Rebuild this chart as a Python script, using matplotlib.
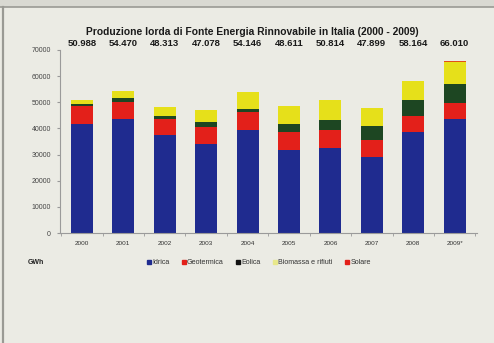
import matplotlib
matplotlib.use("Agg")
import matplotlib.pyplot as plt
from matplotlib.lines import Line2D
from matplotlib.patches import Rectangle

years = ["2000", "2001", "2002", "2003", "2004", "2005", "2006", "2007", "2008", "2009*"]
total_labels = ["50.988", "54.470", "48.313", "47.078", "54.146", "48.611", "50.814", "47.899", "58.164", "66.010"]
idrica = [41700, 43600, 37500, 34100, 39500, 31900, 32700, 28900, 38800, 43600]
geotermica = [7000, 6600, 6000, 6600, 6600, 6900, 6800, 6800, 6100, 6100]
eolica = [500, 1600, 1400, 1600, 1500, 2900, 3700, 5100, 5900, 7200]
biomassa = [1800, 2700, 3400, 4800, 6500, 6900, 7600, 7100, 7200, 8400]
solare = [6, 5, 4, 5, 4, 4, 2, 39, 193, 676]
series_names = ["Idrica", "Geotermica", "Eolica", "Biomassa e rifiuti", "Solare"]
y_ticks = [0, 10000, 20000, 30000, 40000, 50000, 60000, 70000]

colors = ["#1f2b8f", "#e3201a", "#1d4622", "#e6e01a", "#e0501a"]
legend_colors = ["#1f2b8f", "#e3201a", "#111111", "#e8e88a", "#e3201a"]
bg = "#ebebe4"

W, H = 494, 343
fig = plt.figure(figsize=(W / 100, H / 100), dpi=100, facecolor=bg)
plt.rcParams["font.family"] = ["Liberation Sans", "DejaVu Sans"]

# frame lines of the photographed page
fig.patches.append(Rectangle((0, 1 - 7 / H), 1, 7 / H, transform=fig.transFigure,
                             facecolor="#d9d9d2", edgecolor="none", zorder=0))
fig.lines.append(Line2D([0, 1], [1 - 7 / H, 1 - 7 / H], transform=fig.transFigure,
                        color="#9a9a94", lw=1.2))
fig.lines.append(Line2D([3 / W, 3 / W], [0, 1 - 7 / H], transform=fig.transFigure,
                        color="#9a9a94", lw=1.6))

ax = fig.add_axes([60 / W, 1 - 233 / H, (477 - 60) / W, (233 - 50) / H])
ax.set_facecolor(bg)

x = list(range(len(years)))
width = 0.53
stack = [idrica, geotermica, eolica, biomassa, solare]
bottom = [0] * len(years)
for vals, c, name in zip(stack, colors, series_names):
    ax.bar(x, vals, width=width, bottom=bottom, color=c, label=name, zorder=2)
    bottom = [b + v for b, v in zip(bottom, vals)]

ax.set_xlim(-0.53, 9.54)
ax.set_ylim(0, 70000)
ax.set_yticks(y_ticks)
ax.set_yticklabels([str(v) for v in y_ticks], fontsize=5.0, color="#444444")
ax.set_xticks(x)
ax.set_xticklabels(years, fontsize=4.6, color="#333333")
ax.tick_params(axis="x", length=0, pad=6)
ax.set_xticks([i + 0.5 for i in range(-1, 10)], minor=True)
ax.tick_params(axis="x", which="minor", length=2, color="#999999")
ax.tick_params(axis="y", length=2.5, color="#999999", pad=4)

for s in ["top", "right"]:
    ax.spines[s].set_visible(False)
for s in ["left", "bottom"]:
    ax.spines[s].set_color("#9a9a9a")
    ax.spines[s].set_linewidth(0.8)

for i, lab in enumerate(total_labels):
    ax.text(i, 72600, lab, ha="center", va="center", fontsize=6.8,
            fontweight="bold", color="#1a1a1a", clip_on=False)

fig.text(252 / W, 1 - 32 / H,
         "Produzione lorda di Fonte Energia Rinnovabile in Italia (2000 - 2009)",
         ha="center", va="center", fontsize=7.4, fontweight="bold", color="#1a1a1a")

fig.text(28 / W, 1 - 263 / H, "GWh", ha="left", va="center", fontsize=5,
         fontweight="bold", color="#222222")

handles = [Line2D([], [], marker="s", linestyle="none", markersize=2.6,
                  markerfacecolor=c, markeredgecolor=c) for c in legend_colors]
fig.legend(handles, series_names, loc="center", bbox_to_anchor=(259 / W, 1 - 263 / H),
           ncol=5, frameon=False, fontsize=5.1, handlelength=0.5, handletextpad=0.2,
           columnspacing=1.8, borderpad=0, labelcolor="#333333")

fig.savefig("out.png", dpi=100, facecolor=bg)
